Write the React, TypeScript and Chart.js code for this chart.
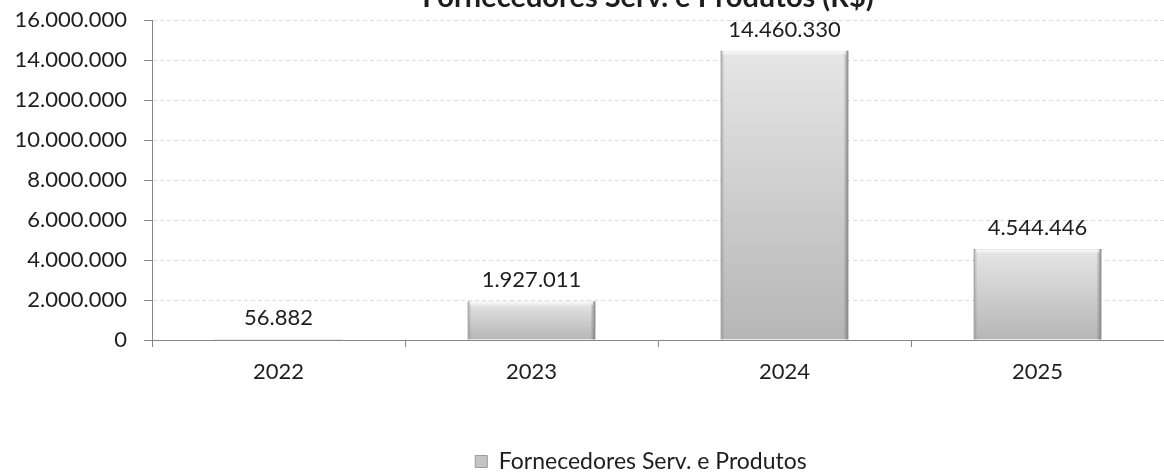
import React, { useEffect, useRef } from "react";
import { Chart, registerables } from "chart.js";

Chart.register(...registerables);

const chartTitle = "Fornecedores Serv. e Produtos (R$)";
const categories = ["2022", "2023", "2024", "2025"];
const seriesName = "Fornecedores Serv. e Produtos";
const values = [56882, 1927011, 14460330, 4544446];
const yMin = 0;
const yMax = 16000000;
const yStep = 2000000;

const FONT = "Lato, 'Open Sans', sans-serif";
const TEXT = "#1e1e1e";
const AXIS = "#868686";
const W = 1164;
const H = 483;

const fmt = (v: number) =>
  Math.round(v).toString().replace(/\B(?=(\d{3})+(?!\d))/g, ".");

const titlePlugin = {
  id: "topTitle",
  afterDraw(chart: any) {
    const ctx = chart.ctx;
    ctx.save();
    ctx.font = `bold 29px ${FONT}`;
    ctx.fillStyle = TEXT;
    ctx.textAlign = "center";
    ctx.textBaseline = "alphabetic";
    ctx.fillText(chartTitle, 648, 7);
    ctx.restore();
  },
};

const legendShiftPlugin = {
  id: "legendShift",
  afterLayout(chart: any) {
    const lg = chart.legend;
    if (lg) {
      lg.left -= 17;
      lg.right -= 17;
    }
  },
};

const barDecorPlugin = {
  id: "barDecor",
  afterDatasetsDraw(chart: any) {
    const ctx = chart.ctx;
    const meta = chart.getDatasetMeta(0);
    ctx.save();
    meta.data.forEach((el: any, i: number) => {
      const { x, y, base, width } = el.getProps(["x", "y", "base", "width"], true);
      const left = x - width / 2;
      const right = x + width / 2;
      const h = base - y;
      if (h > 3) {
        const gl = ctx.createLinearGradient(left, 0, left + 4, 0);
        gl.addColorStop(0, "rgba(120,120,120,0.5)");
        gl.addColorStop(1, "rgba(120,120,120,0)");
        ctx.fillStyle = gl;
        ctx.fillRect(left, y, 4, h);
        const gr = ctx.createLinearGradient(right - 5, 0, right, 0);
        gr.addColorStop(0, "rgba(110,110,110,0)");
        gr.addColorStop(1, "rgba(110,110,110,0.75)");
        ctx.fillStyle = gr;
        ctx.fillRect(right - 5, y, 5, h);
        const gt = ctx.createLinearGradient(0, y, 0, y + 5);
        gt.addColorStop(0, "rgba(255,255,255,0.9)");
        gt.addColorStop(1, "rgba(255,255,255,0)");
        ctx.fillStyle = gt;
        ctx.fillRect(left + 2, y, width - 4, 5);
      }
      ctx.font = `22px ${FONT}`;
      ctx.fillStyle = TEXT;
      ctx.textAlign = "center";
      ctx.textBaseline = "alphabetic";
      ctx.fillText(fmt(values[i]), x, y - 14);
    });
    ctx.restore();
  },
};

export default function App() {
  const ref = useRef<HTMLCanvasElement | null>(null);

  useEffect(() => {
    if (!ref.current) return;
    const chart = new Chart(ref.current, {
      type: "bar",
      data: {
        labels: categories,
        datasets: [
          {
            label: seriesName,
            data: values,
            backgroundColor: (c: any) => {
              const ch = c.chart;
              if (!ch.chartArea || c.type !== "data" || !ch.scales.y) return "#c8c8c8";
              const ys = ch.scales.y;
              const top = ys.getPixelForValue(c.raw);
              const base = ys.getPixelForValue(0);
              if (!(base - top > 0.5)) return "#c0c0c0";
              const g = ch.ctx.createLinearGradient(0, top, 0, base);
              g.addColorStop(0, "#e6e6e6");
              g.addColorStop(1, "#b6b6b6");
              return g;
            },
            borderColor: "#a3a3a3",
            borderWidth: { left: 1, right: 1, top: 1, bottom: 0 },
            borderSkipped: "bottom",
            barPercentage: 0.505,
            categoryPercentage: 1,
          },
        ],
      },
      options: {
        responsive: false,
        animation: false,
        layout: { padding: { top: 20, left: 0, right: 0, bottom: 0 } },
        font: { family: FONT },
        scales: {
          x: {
            offset: true,
            grid: {
              offset: true,
              drawOnChartArea: false,
              drawTicks: true,
              tickLength: 7,
              tickColor: AXIS,
            },
            border: { color: AXIS, width: 1 },
            ticks: {
              color: TEXT,
              font: { family: FONT, size: 22 },
              padding: 12,
            },
            afterFit: (s: any) => {
              s.height = 102;
              s.paddingLeft = 0;
              s.paddingRight = 0;
            },
          },
          y: {
            min: yMin,
            max: yMax,
            ticks: {
              stepSize: yStep,
              color: TEXT,
              font: { family: FONT, size: 22 },
              padding: 17,
              callback: (v: any) => fmt(Number(v)),
            },
            grid: {
              color: "#dcdcdc",
              lineWidth: 1,
              tickLength: 8,
              tickColor: AXIS,
              drawTicks: true,
            },
            border: { color: AXIS, width: 1, dash: [4, 3] },
            afterFit: (s: any) => {
              s.width = 152;
              s.paddingTop = 0;
              s.paddingBottom = 0;
            },
          },
        },
        plugins: {
          title: { display: false },
          tooltip: { enabled: false },
          legend: {
            display: true,
            position: "bottom",
            fullSize: false,
            labels: {
              color: TEXT,
              font: { family: FONT, size: 23 },
              boxWidth: 12,
              boxHeight: 12,
              padding: 8,
              generateLabels: () => [
                {
                  text: seriesName,
                  fillStyle: "#c4c4c4",
                  strokeStyle: "#9a9a9a",
                  lineWidth: 1,
                  hidden: false,
                  datasetIndex: 0,
                  fontColor: TEXT,
                },
              ],
            },
          },
        },
      },
      plugins: [titlePlugin, barDecorPlugin, legendShiftPlugin],
    } as any);
    return () => chart.destroy();
  }, []);

  return (
    <div style={{ position: "fixed", left: 0, top: 0, width: W, height: H, background: "#fff" }}>
      <canvas ref={ref} width={W} height={H} style={{ display: "block" }} />
    </div>
  );
}
